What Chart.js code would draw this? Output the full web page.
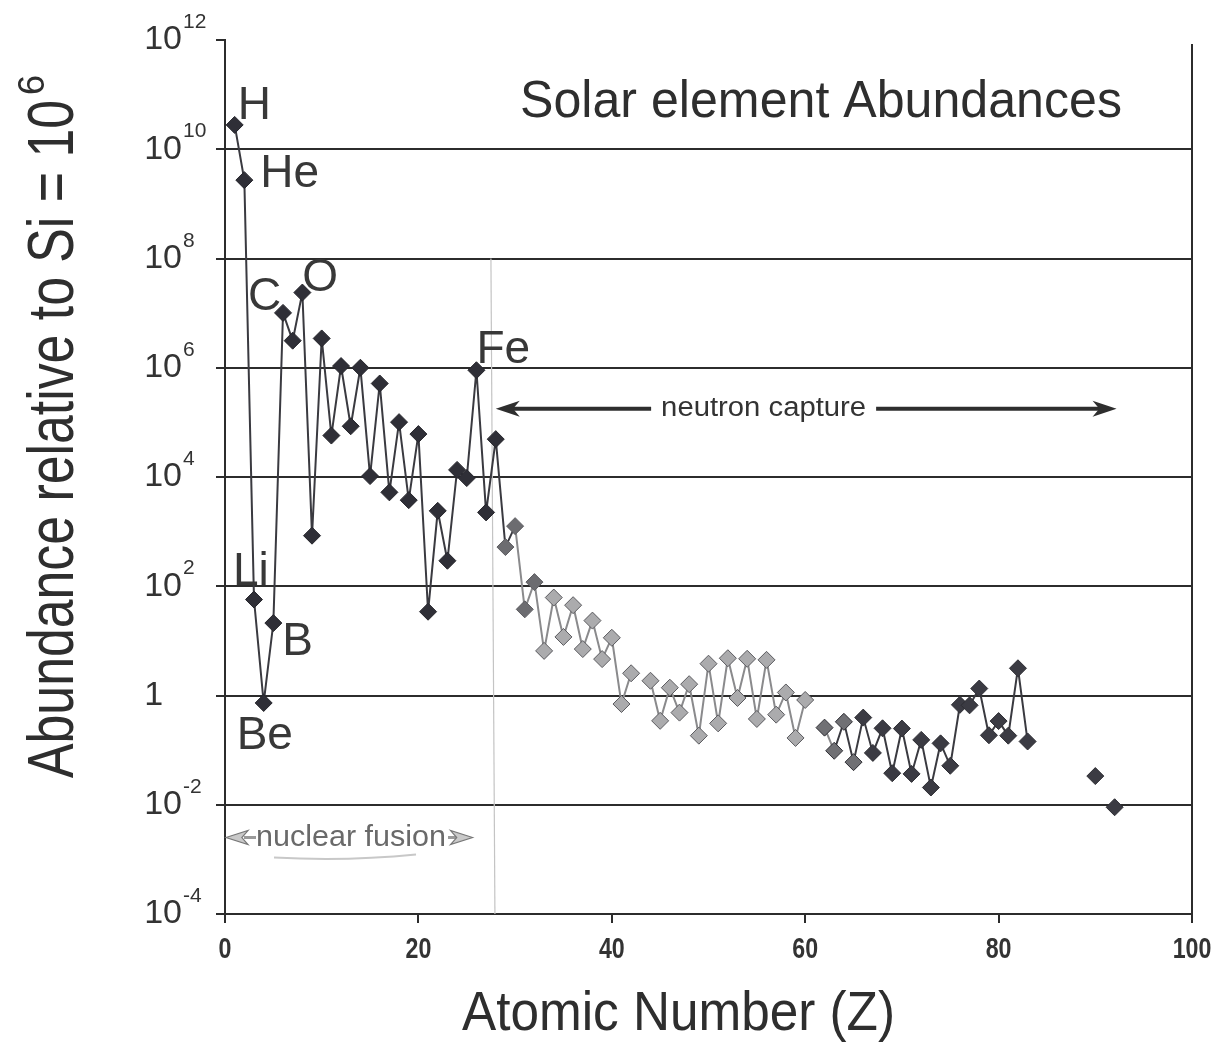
<!DOCTYPE html>
<html><head><meta charset="utf-8">
<script src="https://cdn.jsdelivr.net/npm/chart.js@4.4.0/dist/chart.umd.min.js"></script>
<style>html,body{margin:0;padding:0;background:#fff;}canvas{display:block;}</style>
</head><body>
<canvas id="c" width="1226" height="1045"></canvas>
<script>
// ---------- data ----------
const atomicNumbers = [];
for (let z = 1; z <= 92; z++) atomicNumbers.push(z);
const abundances = [
  2.79e10, 2.72e9, 57.1, 0.73, 21.2, 1.01e7, 3.13e6, 2.38e7, 843, 3.44e6,      // 1-10
  5.74e4, 1.074e6, 8.49e4, 1.0e6, 1.04e4, 5.15e5, 5240, 1.01e5, 3770, 6.11e4,   // 11-20
  34.2, 2400, 293, 1.35e4, 9550, 9.0e5, 2250, 4.93e4, 522, 1260,                // 21-30
  37.8, 119, 6.56, 62.1, 11.8, 45, 7.09, 23.5, 4.64, 11.4,                      // 31-40
  0.698, 2.55, null, 1.86, 0.344, 1.39, 0.486, 1.61, 0.184, 3.82,               // 41-50
  0.309, 4.81, 0.90, 4.7, 0.372, 4.49, 0.446, 1.136, 0.167, 0.828,              // 51-60
  null, 0.258, 0.0973, 0.33, 0.0603, 0.394, 0.0889, 0.251, 0.0378, 0.248,       // 61-70
  0.0367, 0.154, 0.0207, 0.133, 0.0517, 0.675, 0.661, 1.34, 0.187, 0.34,        // 71-80
  0.184, 3.15, 0.144, null, null, null, null, null, null, 0.0335,               // 81-90
  null, 0.009                                                                   // 91-92
];
const yTickExponents = [-4, -2, 0, 2, 4, 6, 8, 10, 12];
const xTickValues = [0, 20, 40, 60, 80, 100];
const labelledSymbols = ['H', 'He', 'Li', 'Be', 'B', 'C', 'O', 'Fe'];
const labelledZ = [1, 2, 3, 4, 5, 6, 8, 26];
const chartTitle = 'Solar element Abundances';
const xTitle = 'Atomic Number (Z)';
const yTitle = 'Abundance relative to Si = 10';
const yTitleSup = '6';
const neutronText = 'neutron capture';
const fusionText = 'nuclear fusion';

// ---------- styling helpers ----------
const FONT = '"Liberation Sans", Arial, Helvetica, sans-serif';
function pointFill(z) {
  if (z <= 28) return '#2f2f37';
  if (z <= 32) return '#6c6c70';
  if (z <= 60) return '#ababad';
  if (z <= 65) return '#707074';
  return '#3b3b43';
}
function pointEdge(z) {
  if (z <= 28) return '#26262c';
  if (z <= 60) return '#5c5c60';
  return '#2e2e34';
}
function segColor(z) {
  if (z <= 30) return '#3a3a40';
  if (z <= 63) return '#8a8a8c';
  return '#3a3a40';
}
function fitText(ctx, text, x, y, width, font) {
  ctx.save();
  ctx.font = font;
  const w = ctx.measureText(text).width;
  ctx.translate(x, y);
  ctx.scale(width / w, 1);
  ctx.textAlign = 'left';
  ctx.fillText(text, 0, 0);
  ctx.restore();
}
function arrowHead(ctx, tipX, y, dir, len, half, fill, stroke) {
  ctx.beginPath();
  ctx.moveTo(tipX, y);
  ctx.lineTo(tipX - dir * len, y - half);
  ctx.lineTo(tipX - dir * len * 0.72, y);
  ctx.lineTo(tipX - dir * len, y + half);
  ctx.closePath();
  ctx.fillStyle = fill; ctx.fill();
  if (stroke) { ctx.strokeStyle = stroke; ctx.lineWidth = 1.2; ctx.stroke(); }
}

const labelOffsets = { H: [3, -6], He: [16, 7], Li: [-21, -15], Be: [-27, 46], B: [9, 32], C: [-35, -3], O: [0, -2], Fe: [0, -7] };

const decor = {
  id: 'decor',
  beforeDraw(chart) {
    const ctx = chart.ctx;
    ctx.save(); ctx.fillStyle = '#ffffff'; ctx.fillRect(0, 0, chart.width, chart.height); ctx.restore();
  },
  beforeDatasetsDraw(chart) {
    const ctx = chart.ctx, xs = chart.scales.x, ys = chart.scales.y;
    const x = xs.getPixelForValue(27.5);
    ctx.save();
    ctx.strokeStyle = '#c4c4c4'; ctx.lineWidth = 1.2;
    ctx.beginPath(); ctx.moveTo(x, ys.getPixelForValue(1e8)); ctx.lineTo(x + 4, chart.chartArea.bottom); ctx.stroke();
    ctx.restore();
  },
  afterDraw(chart) {
    const ctx = chart.ctx, xs = chart.scales.x, ys = chart.scales.y, ca = chart.chartArea;
    ctx.save();
    // right border
    ctx.strokeStyle = '#2c2c2c'; ctx.lineWidth = 2;
    ctx.beginPath(); ctx.moveTo(ca.right, ca.top + 4); ctx.lineTo(ca.right, ca.bottom); ctx.stroke();

    // y tick labels
    ctx.fillStyle = '#333';
    yTickExponents.forEach(e => {
      const y = ys.getPixelForValue(Math.pow(10, e));
      ctx.font = '34px ' + FONT;
      ctx.textBaseline = 'middle';
      const w10 = ctx.measureText('10').width;
      if (e === 0) {
        ctx.textAlign = 'left';
        ctx.fillText('1', 182 - w10, y);
      } else {
        ctx.textAlign = 'right';
        ctx.fillText('10', 182, y);
        ctx.font = '21px ' + FONT;
        ctx.textAlign = 'left';
        ctx.textBaseline = 'alphabetic';
        ctx.fillText(String(e), 183, y - 12);
      }
    });

    // x tick labels (narrow bold)
    ctx.textBaseline = 'middle';
    xTickValues.forEach(v => {
      const x = xs.getPixelForValue(v);
      ctx.save();
      ctx.font = 'bold 29px ' + FONT;
      ctx.translate(x, 950);
      ctx.scale(0.8, 1);
      ctx.textAlign = 'center';
      ctx.fillStyle = '#333';
      ctx.fillText(String(v), 0, 0);
      ctx.restore();
    });

    // axis titles
    ctx.fillStyle = '#2e2e2e';
    ctx.textBaseline = 'alphabetic';
    fitText(ctx, xTitle, 462, 1030, 433, '56px ' + FONT);
    ctx.save();
    ctx.translate(73, 778);
    ctx.rotate(-Math.PI / 2);
    fitText(ctx, yTitle, 0, 0, 678, '64px ' + FONT);
    ctx.font = '36px ' + FONT;
    ctx.textAlign = 'left';
    ctx.fillText(yTitleSup, 683, -29);
    ctx.restore();

    // chart title
    fitText(ctx, chartTitle, 520, 117, 602, '52px ' + FONT);

    // element labels
    ctx.font = '46px ' + FONT;
    ctx.fillStyle = '#383838';
    ctx.textAlign = 'left';
    labelledSymbols.forEach((s, i) => {
      const z = labelledZ[i];
      const px = xs.getPixelForValue(z), py = ys.getPixelForValue(abundances[z - 1]);
      const o = labelOffsets[s];
      ctx.fillText(s, px + o[0], py + o[1]);
    });

    // neutron capture arrow
    const ny = ys.getPixelForValue(Math.pow(10, 5.25));
    const nL = xs.getPixelForValue(28), nR = xs.getPixelForValue(92.2);
    const nC = xs.getPixelForValue(55.7);
    ctx.font = '27px ' + FONT;
    const nW = 205;
    ctx.fillStyle = '#333';
    ctx.textBaseline = 'middle';
    fitText(ctx, neutronText, nC - nW / 2, ny, nW, '27px ' + FONT);
    ctx.strokeStyle = '#2e2e2e'; ctx.lineWidth = 4;
    ctx.beginPath(); ctx.moveTo(nL + 12, ny); ctx.lineTo(nC - nW / 2 - 10, ny); ctx.stroke();
    ctx.beginPath(); ctx.moveTo(nC + nW / 2 + 10, ny); ctx.lineTo(nR - 12, ny); ctx.stroke();
    arrowHead(ctx, nL, ny, -1, 24, 8, '#2e2e2e');
    arrowHead(ctx, nR, ny, 1, 24, 8, '#2e2e2e');

    // nuclear fusion arrow
    const fy = ys.getPixelForValue(Math.pow(10, -2.6));
    const fL = xs.getPixelForValue(0) + 1, fR = xs.getPixelForValue(25.6);
    ctx.fillStyle = '#6a6a6a';
    fitText(ctx, fusionText, fL + 30, fy, 190, '29px ' + FONT);
    ctx.strokeStyle = '#9a9a9a'; ctx.lineWidth = 3;
    ctx.beginPath(); ctx.moveTo(fL + 18, fy); ctx.lineTo(fL + 30, fy); ctx.stroke();
    ctx.beginPath(); ctx.moveTo(fL + 222, fy); ctx.lineTo(fR - 14, fy); ctx.stroke();
    arrowHead(ctx, fL, fy, -1, 22, 7, '#c9c9c9', '#777');
    arrowHead(ctx, fR, fy, 1, 22, 7, '#c9c9c9', '#777');
    // faint underline
    ctx.strokeStyle = '#c8c8c8'; ctx.lineWidth = 2;
    ctx.beginPath();
    ctx.moveTo(fL + 48, fy + 20);
    ctx.quadraticCurveTo(fL + 120, fy + 24, fL + 190, fy + 17);
    ctx.stroke();
    ctx.restore();
  }
};

new Chart(document.getElementById('c'), {
  type: 'line',
  data: {
    datasets: [{
      data: atomicNumbers.map((z, i) => ({ x: z, y: abundances[i] })),
      showLine: true,
      spanGaps: false,
      borderWidth: 2,
      borderColor: '#3a3a40',
      segment: { borderColor: c => segColor(c.p1.parsed.x) },
      pointStyle: 'rectRot',
      pointRadius: 8.5,
      pointHoverRadius: 8.5,
      pointBorderWidth: 1,
      pointBackgroundColor: c => pointFill(c.raw ? c.raw.x : 1),
      pointBorderColor: c => pointEdge(c.raw ? c.raw.x : 1),
      tension: 0
    }]
  },
  options: {
    responsive: false,
    animation: false,
    devicePixelRatio: 1,
    layout: { padding: { top: 40, right: 34, left: 0, bottom: 0 } },
    plugins: { legend: { display: false }, tooltip: { enabled: false } },
    scales: {
      x: {
        type: 'linear', min: 0, max: 100,
        afterBuildTicks: s => { s.ticks = xTickValues.map(v => ({ value: v })); },
        afterFit: s => { s.height = 131; },
        ticks: { display: false },
        grid: { drawOnChartArea: false, tickLength: 9, color: '#2c2c2c', lineWidth: 2 },
        border: { color: '#2c2c2c', width: 2 }
      },
      y: {
        type: 'logarithmic', min: 1e-4, max: 1e12,
        afterBuildTicks: s => { s.ticks = yTickExponents.map(e => ({ value: Math.pow(10, e) })); },
        afterFit: s => { s.width = 225; },
        ticks: { display: false },
        grid: {
          color: c => (c.tick && c.tick.value >= 1e12) ? 'rgba(0,0,0,0)' : '#2c2c2c',
          lineWidth: 2, tickLength: 9, tickColor: '#2c2c2c', tickWidth: 2
        },
        border: { color: '#2c2c2c', width: 2 }
      }
    }
  },
  plugins: [decor]
});
</script>
</body></html>
